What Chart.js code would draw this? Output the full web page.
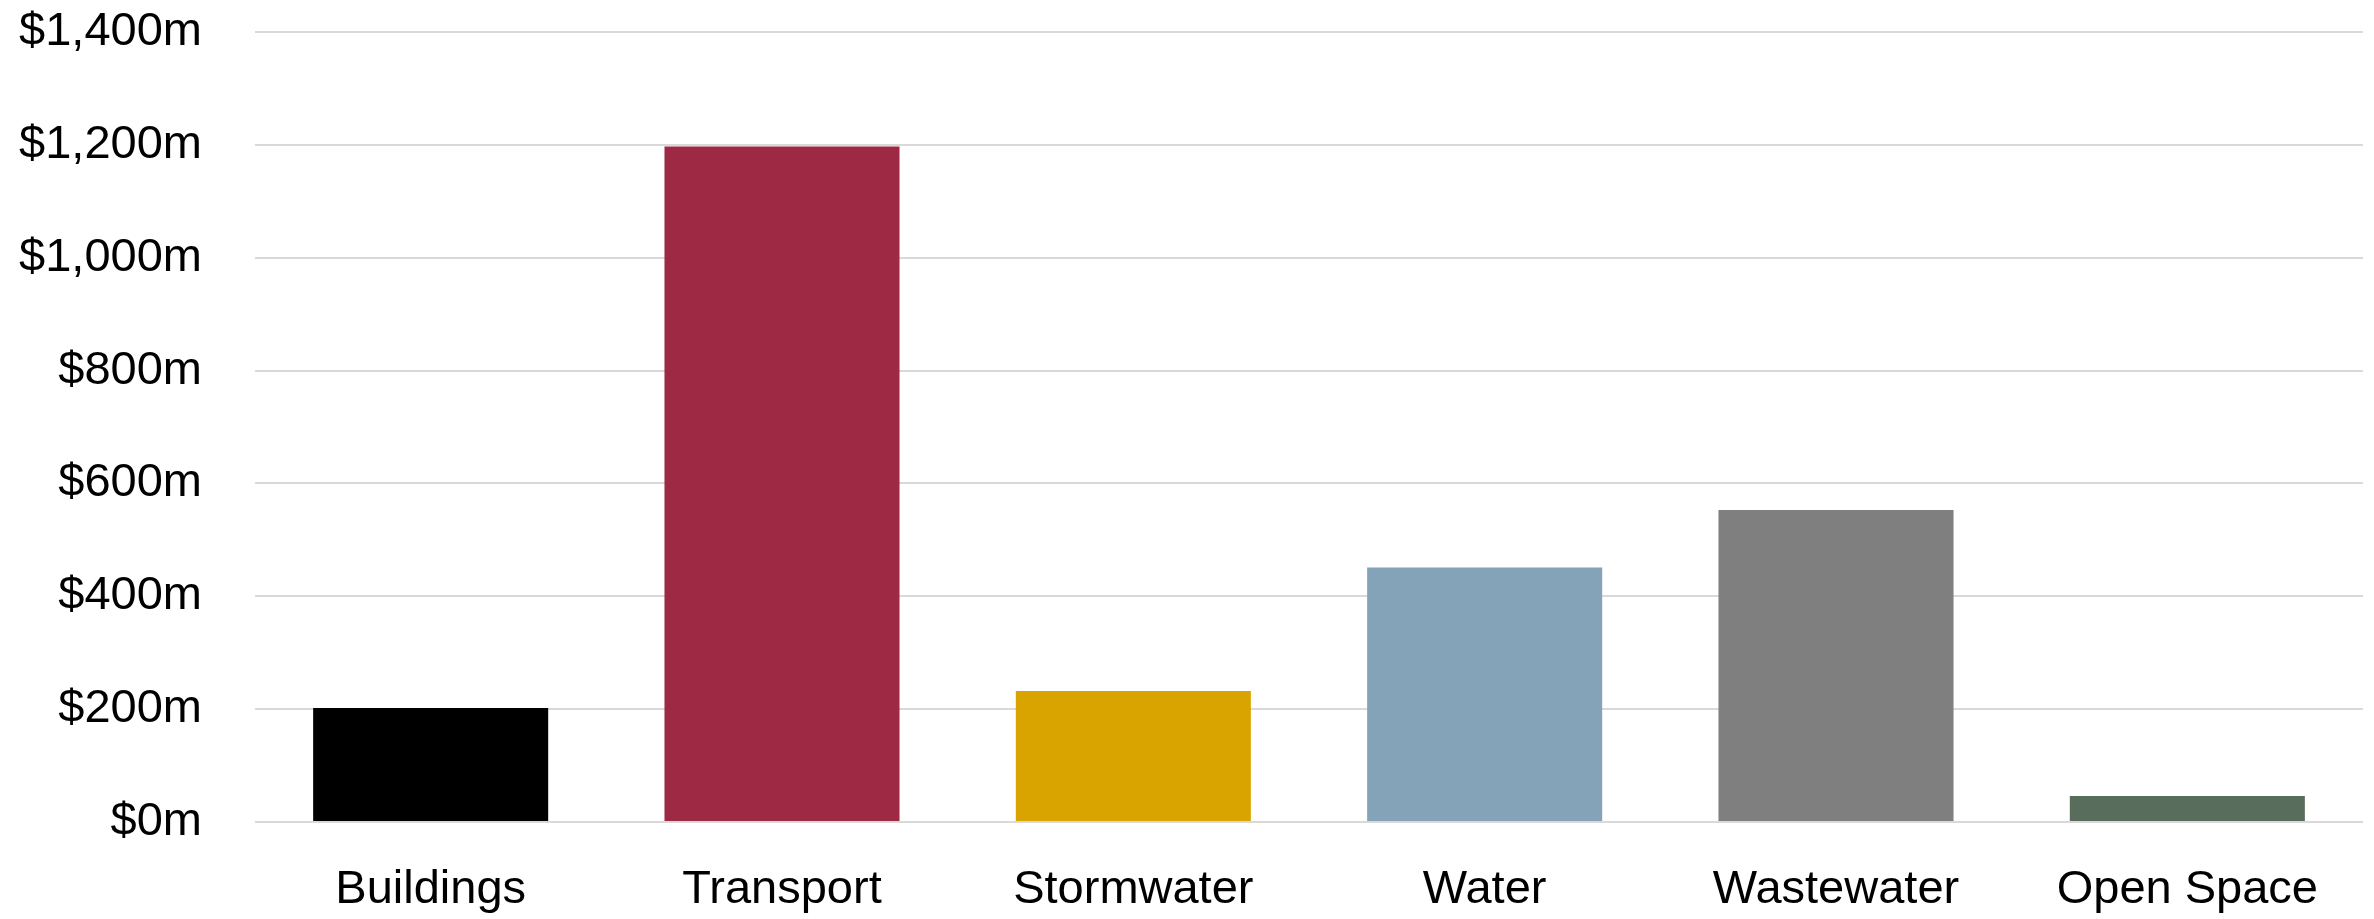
<!DOCTYPE html>
<html lang="en">
<head>
    <meta charset="UTF-8">
    <title>Capital Spend by Asset Class</title>
    <script src="https://cdn.jsdelivr.net/npm/chart.js"></script>
    <style>
        body {
            margin: 0;
            background-color: #ffffff;
        }
        canvas {
            display: block;
        }
    </style>
</head>
<body>
    <canvas id="spendChart" width="2374" height="919"></canvas>

    <script>
        // Data ($ millions)
        const categories = ['Buildings', 'Transport', 'Stormwater', 'Water', 'Wastewater', 'Open Space'];
        const spend = [202, 1197, 232, 451, 553, 46];
        const barColors = ['#000000', '#9e2944', '#d9a400', '#84a2b8', '#7f7f7f', '#586d5c'];
        const yTicks = [0, 200, 400, 600, 800, 1000, 1200, 1400];

        const labelFont = { family: "'Liberation Sans', Arial, sans-serif", size: 47 };

        const ctx = document.getElementById('spendChart').getContext('2d');

        const spendChart = new Chart(ctx, {
            type: 'bar',
            data: {
                labels: categories,
                datasets: [{
                    label: 'Spend',
                    data: spend,
                    backgroundColor: barColors,
                    borderWidth: 0,
                    categoryPercentage: 1.0,
                    barPercentage: 0.669
                }]
            },
            options: {
                responsive: false,
                animation: false,
                layout: {
                    padding: { top: 32, right: 11, bottom: 0, left: 0 }
                },
                plugins: {
                    legend: { display: false },
                    tooltip: { enabled: false }
                },
                scales: {
                    x: {
                        afterFit: function(scale) {
                            scale.height = 97;
                            scale.paddingLeft = 0;
                            scale.paddingRight = 0;
                        },
                        grid: { display: false, drawTicks: false },
                        border: { display: false },
                        ticks: {
                            color: '#000000',
                            font: labelFont,
                            padding: 40,
                            maxRotation: 0
                        }
                    },
                    y: {
                        min: yTicks[0],
                        max: yTicks[yTicks.length - 1],
                        afterBuildTicks: function(scale) {
                            scale.ticks = yTicks.map(v => ({ value: v }));
                        },
                        afterFit: function(scale) {
                            scale.width = 255; // plot area starts here
                            scale.paddingTop = 0;
                            scale.paddingBottom = 0;
                        },
                        grid: {
                            color: '#d9d9d9',
                            lineWidth: 2,
                            drawTicks: false
                        },
                        border: { display: false },
                        ticks: {
                            color: '#000000',
                            font: labelFont,
                            padding: 53,
                            callback: function(value) {
                                return '$' + value.toLocaleString('en-US') + 'm';
                            }
                        }
                    }
                }
            }
        });
    </script>
</body>
</html>
